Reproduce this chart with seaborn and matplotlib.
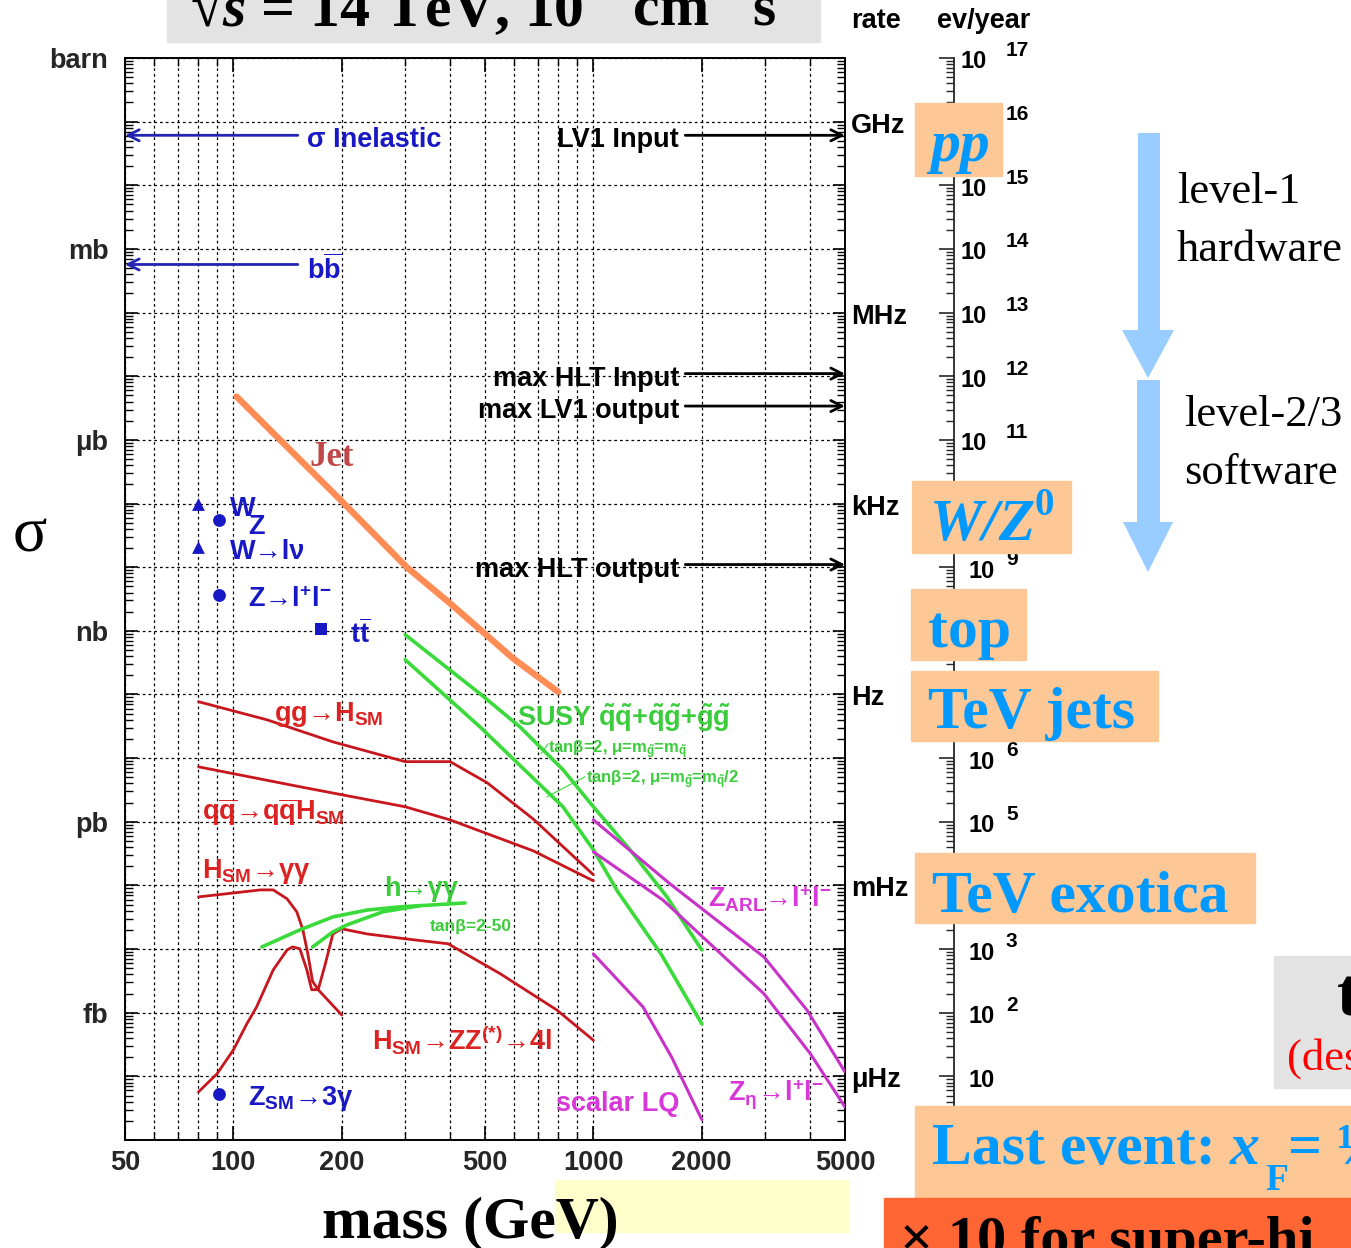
import numpy as np
import pandas as pd
import matplotlib
matplotlib.use("Agg")
import matplotlib.pyplot as plt
import seaborn as sns
from matplotlib.patches import Rectangle, Polygon
from matplotlib.ticker import FixedLocator, FuncFormatter, NullFormatter
from matplotlib.transforms import blended_transform_factory, offset_copy

# ---------------- cross sections (mass in GeV, sigma in pb) ----------------
jet_mass = [102, 198, 303, 400, 598, 798]
jet_xsec = [4.8e6, 1.15e5, 1.0e4, 2.7e3, 3.7e2, 1.1e2]

gg_h_mass = [80, 124, 189, 300, 400, 507, 680, 1000]
gg_h_xsec = [77, 40, 18, 8.8, 8.8, 4.1, 1.11, 0.147]

qq_h_mass = [80, 153, 300, 400, 680, 1000]
qq_h_xsec = [7.3, 3.55, 1.72, 1.07, 0.35, 0.118]

h_gamgam_mass = [80, 119, 129, 141, 150, 156, 161, 166, 172, 200]
h_gamgam_xsec = [0.066, 0.085, 0.085, 0.0615, 0.0385, 0.020, 0.0084, 0.0031, 0.0023, 9.2e-4]

h_zz_mass = [80, 90, 100, 109, 116, 129, 141, 146, 153, 160, 165, 172, 180, 189,
             200, 235, 300, 395, 551, 792, 1000]
h_zz_xsec = [5.7e-5, 1.09e-4, 2.6e-4, 6.7e-4, 1.23e-3, 4.7e-3, 9.7e-3, 0.0108, 0.0101,
             4.7e-3, 2.3e-3, 2.3e-3, 5.8e-3, 0.0173, 0.0208, 0.0173, 0.0145, 0.0121,
             4.1e-3, 1.1e-3, 3.7e-4]

mssm_h_a_mass = [120, 153, 189, 235, 290, 440]
mssm_h_a_xsec = [0.0108, 0.020, 0.032, 0.041, 0.046, 0.053]
mssm_h_b_mass = [166, 189, 207, 260, 330]
mssm_h_b_xsec = [0.0108, 0.0186, 0.024, 0.0385, 0.048]

susy_1_mass = [300, 484, 625, 823, 1000, 1264, 1601, 2000]
susy_1_xsec = [871, 103, 31, 6.6, 1.72, 0.363, 0.066, 0.0097]
susy_2_mass = [300, 484, 823, 1000, 1170, 1541, 2000]
susy_2_xsec = [352, 31, 1.72, 0.363, 0.079, 0.0084, 6.7e-4]

z_arl_mass = [1000, 1632, 2978, 3920, 5000]
z_arl_xsec = [1.07, 0.106, 7.5e-3, 1.1e-3, 1.17e-4]
z_eta_mass = [1000, 1560, 2978, 4010, 5000]
z_eta_xsec = [0.337, 0.059, 1.98e-3, 2.25e-4, 3.3e-5]
lq_mass = [1000, 1374, 1650, 2000]
lq_xsec = [8.4e-3, 1.23e-3, 2.0e-4, 2.1e-5]

# single measured / predicted points
point_mass = [80, 91, 80, 91, 175, 91]
point_xsec = [1.0e5, 5.6e4, 2.1e4, 3.7e3, 1.07e3, 5.3e-5]
point_marker = ["^", "o", "^", "o", "s", "o"]

# horizontal reference levels
inelastic_xsec = 6.1e10
bbbar_xsec = 5.7e8
trigger_labels = ["LV1 Input", "max HLT Input", "max LV1 output", "max HLT output"]
trigger_xsec = [6.1e10, 1.1e7, 3.4e6, 1.1e4]

unit_labels = ["barn", "mb", "μb", "nb", "pb", "fb"]
unit_xsec = [1e12, 1e9, 1e6, 1e3, 1, 1e-3]
rate_labels = ["GHz", "MHz", "kHz", "Hz", "mHz", "μHz"]
rate_xsec = [1e11, 1e8, 1e5, 1e2, 1e-1, 1e-4]
mass_ticks = [50, 100, 200, 500, 1000, 2000, 5000]
mass_minor = [60, 70, 80, 90, 300, 400, 600, 700, 800, 900, 3000, 4000]
events_exponents = list(range(1, 18))
PB_TO_EVENTS = 1e5   # events per year per pb at 10^34 cm^-2 s^-1

# ---------------- style ----------------
sns.set_theme(style="ticks")
plt.rcParams["font.family"] = ["Liberation Sans", "DejaVu Sans"]
plt.rcParams.update({
    "font.weight": "bold",
    "mathtext.fontset": "custom",
    "mathtext.rm": "Liberation Sans:bold",
    "mathtext.sf": "Liberation Sans:bold",
    "mathtext.it": "Liberation Serif:italic:bold",
    "mathtext.bf": "Liberation Serif:bold",
    "mathtext.default": "rm",
})
SERIF = ["Liberation Serif", "DejaVu Serif"]

RED, RED_TXT = "#c8161e", "#dc2323"
GREEN, GREEN_TXT = "#3ada3a", "#3acc3a"
PURPLE, PURPLE_TXT = "#c832c8", "#d838d8"
BLUE = "#1818c4"
ORANGE = "#ff8c55"
BOX = "#fdc896"
BOX_TXT = "#0099ff"
FS = 19.5

W, H = 1351, 1248
fig = plt.figure(figsize=(W / 100, H / 100), dpi=100)
fig.patch.set_facecolor("white")


def place(x0, y0, x1, y1):
    return [x0 / W, 1 - y1 / H, (x1 - x0) / W, (y1 - y0) / H]


ax = fig.add_axes(place(125, 58, 845, 1140))
ax.set_xscale("log")
ax.set_yscale("log")
ax.set_xlim(50, 5000)
ax.set_ylim(1e-5, 1e12)
# text anchored on the letter body rather than on the full glyph box
txt_tr = offset_copy(ax.transData, fig=fig, x=0, y=-5, units="dots")


def curve(mass, xsec, color, lw):
    df = pd.DataFrame({"mass": mass, "xsec": xsec})
    sns.lineplot(data=df, x="mass", y="xsec", ax=ax, color=color, lw=lw,
                 sort=False, estimator=None, legend=False, zorder=4)


curve(jet_mass, jet_xsec, ORANGE, 4.6)
curve(gg_h_mass, gg_h_xsec, RED, 2.0)
curve(qq_h_mass, qq_h_xsec, RED, 2.0)
curve(h_gamgam_mass, h_gamgam_xsec, RED, 2.0)
curve(h_zz_mass, h_zz_xsec, RED, 2.0)
curve(mssm_h_a_mass, mssm_h_a_xsec, GREEN, 2.6)
curve(mssm_h_b_mass, mssm_h_b_xsec, GREEN, 2.6)
curve(susy_1_mass, susy_1_xsec, GREEN, 2.6)
curve(susy_2_mass, susy_2_xsec, GREEN, 2.6)
curve(z_arl_mass, z_arl_xsec, PURPLE, 2.2)
curve(z_eta_mass, z_eta_xsec, PURPLE, 2.2)
curve(lq_mass, lq_xsec, PURPLE, 2.2)

for m, s, mk in zip(point_mass, point_xsec, point_marker):
    sns.scatterplot(x=[m], y=[s], marker=mk, s=85, color=BLUE, edgecolor=BLUE,
                    linewidth=0, ax=ax, zorder=5, legend=False)

# reference arrows
arrow_kw = dict(arrowstyle="->", lw=2.0, mutation_scale=20, shrinkA=0, shrinkB=0)
for lvl in (inelastic_xsec, bbbar_xsec):
    ax.annotate("", xy=(50, lvl), xytext=(151, lvl),
                arrowprops=dict(color="#2424b4", **arrow_kw), zorder=5)
for lab, lvl in zip(trigger_labels, trigger_xsec):
    ax.annotate("", xy=(5000, lvl), xytext=(1800, lvl),
                arrowprops=dict(color="black", **arrow_kw), zorder=5, annotation_clip=False)
    ax.text(1730, lvl, lab, transform=txt_tr, ha="right", va="center", fontsize=FS,
            color="black", zorder=6)

ax.text(160, inelastic_xsec, "σ Inelastic", transform=txt_tr, ha="left", va="center",
        fontsize=FS, color=BLUE)
ax.text(160, bbbar_xsec, r"b$\overline{\rm b}$", transform=txt_tr, ha="left", va="center",
        fontsize=FS, color=BLUE)

# curve / point labels
labels = [
    (163, 6.3e5, "Jet", "#c04848", 25, SERIF),
    (98, 1.0e5, "W", BLUE, FS, None),
    (110, 5.2e4, "Z", BLUE, FS, None),
    (98, 2.1e4, "W→lν", BLUE, FS, None),
    (110, 3.7e3, r"Z→l$^{+}$l$^{-}$", BLUE, FS, None),
    (211, 1.07e3, r"t$\overline{\rm t}$", BLUE, FS, None),
    (110, 5.3e-5, r"Z$_{\rm SM}$→3γ", BLUE, FS, None),
    (130, 58, r"gg→H$_{\rm SM}$", RED_TXT, FS, None),
    (82, 1.72, r"q$\overline{\rm q}$→q$\overline{\rm q}$H$_{\rm SM}$", RED_TXT, FS, None),
    (82, 0.196, r"H$_{\rm SM}$→γγ", RED_TXT, FS, None),
    (262, 0.106, "h→γγ", GREEN_TXT, FS, None),
    (351, 0.0268, "tanβ=2-50", GREEN_TXT, 12.5, None),
    (243, 4.6e-4, r"H$_{\rm SM}$→ZZ$^{(*)}$→4l", RED_TXT, FS, None),
    (614, 52, r"SUSY $\tilde{\rm q}\tilde{\rm q}$+$\tilde{\rm q}\tilde{\rm g}$+$\tilde{\rm g}\tilde{\rm g}$", GREEN_TXT, FS, None),
    (750, 16, r"tanβ=2, μ=m$_{\tilde{\rm g}}$=m$_{\tilde{\rm q}}$", GREEN_TXT, 12, None),
    (954, 5.5, r"tanβ=2, μ=m$_{\tilde{\rm g}}$=m$_{\tilde{\rm q}}$/2", GREEN_TXT, 12, None),
    (2080, 0.074, r"Z$_{\rm ARL}$→l$^{+}$l$^{-}$", PURPLE_TXT, FS, None),
    (787, 4.4e-5, "scalar LQ", PURPLE_TXT, FS, None),
    (2366, 6.1e-5, r"Z$_{\eta}$→l$^{+}$l$^{-}$", PURPLE_TXT, FS, None),
]
for m, s, txt, col, fs, fam in labels:
    kw = {} if fam is None else {"family": fam}
    ax.text(m, s, txt, transform=txt_tr, ha="left", va="center", fontsize=fs, color=col,
            zorder=6, **kw)

# leader lines for the SUSY parameter notes
ax.plot([715, 748], [11.7, 16.7], color=GREEN, lw=0.8, zorder=4)
ax.plot([743, 948], [2.47, 5.1], color=GREEN, lw=0.8, zorder=4)

# axes cosmetics
ax.set_xlabel("")
ax.set_ylabel("")
ax.xaxis.set_major_locator(FixedLocator(mass_ticks))
ax.xaxis.set_minor_locator(FixedLocator(mass_minor))
ax.xaxis.set_major_formatter(FuncFormatter(lambda v, p: f"{v:g}"))
ax.xaxis.set_minor_formatter(NullFormatter())
ax.yaxis.set_major_locator(FixedLocator([10.0 ** k for k in range(-5, 13)]))
ax.yaxis.set_minor_locator(FixedLocator([s * 10.0 ** k for k in range(-5, 12) for s in range(2, 10)]))
unit_map = {round(np.log10(v)): lab for v, lab in zip(unit_xsec, unit_labels)}
ax.yaxis.set_major_formatter(FuncFormatter(lambda v, p: unit_map.get(int(round(np.log10(v))), "")))
ax.yaxis.set_minor_formatter(NullFormatter())
ax.tick_params(axis="both", which="both", direction="in", top=True, right=True, color="black")
ax.tick_params(axis="y", which="major", length=9, width=1.2, pad=12, labelsize=FS)
ax.tick_params(axis="y", which="minor", length=6, width=1.0)
ax.tick_params(axis="x", which="major", length=10, width=1.2, pad=7, labelsize=FS)
ax.tick_params(axis="x", which="minor", length=6, width=1.0)
grid_kw = dict(color="black", lw=0.9, ls=(0, (2.2, 2.4)))
ax.grid(True, which="major", axis="y", **grid_kw)
ax.grid(True, which="both", axis="x", **grid_kw)
for sp in ax.spines.values():
    sp.set_linewidth(1.4)
    sp.set_color("black")

rate_tr = offset_copy(blended_transform_factory(ax.transAxes, ax.transData),
                      fig=fig, x=0, y=-4, units="dots")
for lab, lvl in zip(rate_labels, rate_xsec):
    ax.text(1.0083, lvl, lab, transform=rate_tr, ha="left", va="center", fontsize=FS,
            color="black", clip_on=False)

# events / year scale
ev = fig.add_axes(place(954, 58, 955, 1140))
ev.set_yscale("log")
ev.set_ylim(1e-5 * PB_TO_EVENTS, 1e12 * PB_TO_EVENTS)
ev.set_xticks([])
ev.patch.set_visible(False)
for s in ("top", "right", "bottom"):
    ev.spines[s].set_visible(False)
ev.spines["left"].set_linewidth(1.3)
ev.yaxis.set_major_locator(FixedLocator([10.0 ** k for k in range(0, 18)]))
ev.yaxis.set_minor_locator(FixedLocator([s * 10.0 ** k for k in range(0, 17) for s in range(2, 10)]))
ev.yaxis.set_major_formatter(NullFormatter())
ev.yaxis.set_minor_formatter(NullFormatter())
ev.tick_params(axis="y", which="major", direction="out", length=11, width=1.2, left=True, right=False)
ev.tick_params(axis="y", which="minor", direction="out", length=5.5, width=1.0, left=True, right=False)

# overlay in pixel coordinates for the annotation boxes
ov = fig.add_axes([0, 0, 1, 1])
ov.set_xlim(0, W)
ov.set_ylim(H, 0)
ov.axis("off")
ov.set_zorder(10)

ev_tr = offset_copy(blended_transform_factory(ov.transData, ev.transData),
                    fig=fig, x=0, y=-4, units="dots")
for e in events_exponents:
    x10 = 960 if e >= 10 else 969
    ev.text(x10, 10.0 ** e, "10", transform=ev_tr, ha="left", va="center", fontsize=17,
            color="black", clip_on=False)
    if e > 1:
        ev.text(1006, 10.0 ** e * 1.5, str(e), transform=ev_tr, ha="left", va="center",
                fontsize=15, color="black", clip_on=False)

ov.text(851, 21, "rate", ha="left", va="center", fontsize=FS, color="black")
ov.text(937, 21, "ev/year", ha="left", va="center", fontsize=FS, color="black")

# title banner
ov.add_patch(Rectangle((167, 0), 653, 42, color="#e3e3e3", zorder=1))
ov.text(190, 26, r"√$\mathit{s}$ = 14 TeV, 10", ha="left", va="baseline", fontsize=43,
        family=SERIF, color="black", zorder=2)
ov.text(633, 26, "cm", ha="left", va="baseline", fontsize=43, family=SERIF, color="black", zorder=2)
ov.text(752, 26, "s", ha="left", va="baseline", fontsize=43, family=SERIF, color="black", zorder=2)
for xs, sup in ((585, "34"), (718, "−2"), (775, "−1")):
    ov.text(xs, -6, sup, ha="left", va="baseline", fontsize=28, family=SERIF, color="black", zorder=2)

# axis titles
ov.text(30, 537, "σ", ha="center", va="center", fontsize=46, family=SERIF,
        fontweight="normal", color="black")
ov.add_patch(Rectangle((555, 1180), 293, 52, color="#ffffcc", zorder=1))
ov.text(322, 1237, "mass (GeV)", ha="left", va="baseline", fontsize=43, family=SERIF,
        color="black", zorder=2)

# trigger-level arrows
ov.add_patch(Polygon([(1138, 133), (1160, 133), (1160, 330), (1174, 330), (1148, 378),
                      (1122, 330), (1138, 330)], closed=True, color="#99ccff", lw=0))
ov.add_patch(Polygon([(1137, 380), (1160, 380), (1160, 522), (1173, 522), (1148, 572),
                      (1123, 522), (1137, 522)], closed=True, color="#99ccff", lw=0))
for x, y, t in ((1177, 192, "level-1"), (1177, 250, "hardware"),
                (1184, 415, "level-2/3"), (1184, 473, "software")):
    ov.text(x, y, t, ha="left", va="center", fontsize=32, family=SERIF,
            fontweight="normal", color="black")

# physics-channel boxes
boxes = [((915, 103, 1002, 176), 930, 161, "pp", "italic"),
         ((912, 481, 1071, 553), 930, 540, "W/Z", "italic"),
         ((911, 589, 1026, 660), 928, 647, "top", "normal"),
         ((911, 671, 1158, 741), 928, 728, "TeV jets", "normal"),
         ((915, 853, 1255, 923), 932, 912, "TeV exotica", "normal")]
for (x0, y0, x1, y1), tx, ty, txt, sty in boxes:
    ov.add_patch(Rectangle((x0, y0), x1 - x0, y1 - y0, color=BOX, zorder=1))
    ov.text(tx, ty, txt, ha="left", va="baseline", fontsize=43, family=SERIF,
            style=sty, color=BOX_TXT, zorder=2)
ov.text(1035, 515, "0", ha="left", va="baseline", fontsize=28, family=SERIF,
        color=BOX_TXT, zorder=2)

ov.add_patch(Rectangle((915, 1106), W - 915, 92, color=BOX, zorder=1))
ov.text(932, 1164, "Last event:", ha="left", va="baseline", fontsize=43, family=SERIF,
        color=BOX_TXT, zorder=2)
ov.text(1230, 1164, "x", ha="left", va="baseline", fontsize=43, family=SERIF, style="italic",
        color=BOX_TXT, zorder=2)
ov.text(1265, 1190, "F", ha="left", va="baseline", fontsize=27, family=SERIF,
        color=BOX_TXT, zorder=2)
ov.text(1288, 1164, "= ½", ha="left", va="baseline", fontsize=43, family=SERIF,
        color=BOX_TXT, zorder=2)

ov.add_patch(Rectangle((884, 1198), W - 884, 50, color="#ff6633", zorder=1))
ov.text(900, 1256, "× 10 for super-hi", ha="left", va="baseline", fontsize=42, family=SERIF,
        color="black", zorder=2)

ov.add_patch(Rectangle((1274, 956), W - 1274, 132, color="#e3e3e3", zorder=1))
ov.text(1337, 1015, "t", ha="left", va="baseline", fontsize=48, family=SERIF,
        color="black", zorder=2)
ov.text(1287, 1070, "(des", ha="left", va="baseline", fontsize=32, family=SERIF,
        fontweight="normal", color="#ff0000", zorder=2)

fig.savefig("out.png", dpi=100, facecolor="white")
